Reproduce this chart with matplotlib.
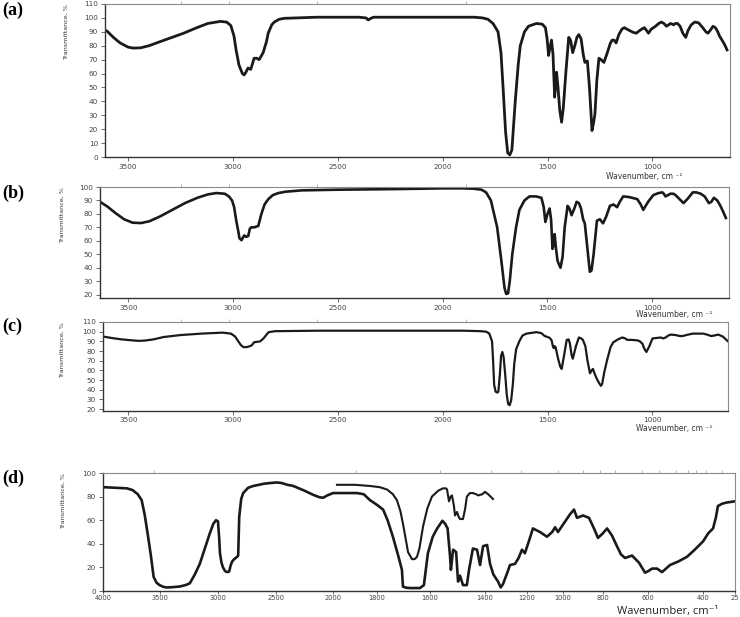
import numpy as np
import matplotlib
matplotlib.use("Agg")
import matplotlib.pyplot as plt

# ---------------- data ----------------
# (a)
wn_a = [3610, 3600, 3570, 3538, 3500, 3476, 3440, 3400, 3346, 3290, 3235, 3180, 3120, 3060, 3030, 3010,
        2995, 2985, 2971, 2955, 2947, 2938, 2928, 2915, 2909, 2899, 2887, 2875, 2856, 2840, 2832, 2815,
        2803, 2780, 2755, 2700, 2600, 2400, 2365, 2355, 2345, 2330, 2200, 2000, 1850, 1810, 1784, 1760,
        1736, 1722, 1712, 1700, 1690, 1680, 1670, 1654, 1640, 1630, 1610, 1591, 1553, 1525, 1510, 1502,
        1495, 1488, 1481, 1474, 1466, 1461, 1457, 1450, 1442, 1433, 1425, 1412, 1399, 1390, 1380, 1370,
        1360, 1351, 1340, 1330, 1322, 1310, 1300, 1288, 1280, 1274, 1265, 1255, 1245, 1231, 1215, 1200,
        1192, 1182, 1173, 1160, 1145, 1134, 1110, 1090, 1077, 1060, 1045, 1038, 1028, 1019, 1005, 985,
        970, 957, 945, 933, 923, 913, 905, 899, 890, 880, 868, 855, 841, 830, 815, 798, 780, 760, 745,
        735, 722, 711, 700, 690, 680, 670, 660, 650, 644]
t_a = [91, 90.5, 86, 82, 79, 78.3, 78.5, 80, 83, 86, 89, 92.5, 96, 97.5, 97, 94.5,
       87, 77, 66, 60, 59, 61, 64, 63, 66, 71, 71, 70, 75, 83, 89, 95,
       97, 99, 99.7, 100, 100.5, 100.5, 100, 98.5, 99.5, 100.5, 100.5, 100.5, 100.5, 100, 99, 96,
       90, 75, 50, 18, 3, 1.5, 5, 40, 66, 80, 90, 94, 96, 95.5, 93, 85,
       73, 79, 84, 74, 43, 52, 61, 50, 34, 25, 35, 62, 86, 84, 75, 80,
       86, 88, 85, 74, 68, 69, 50, 19, 25, 31, 55, 71, 70, 68, 75, 82,
       84, 84, 82, 88, 92, 93, 91, 89.5, 89, 91, 92.5, 93, 91, 89, 92, 94,
       96, 97, 96, 94, 95, 96, 95.5, 95, 96, 96, 94, 89, 86, 91, 95, 97, 96.5, 93, 90,
       89, 91.5, 94, 93, 90.5, 87, 84.5, 82, 79, 77]

# (b)
wn_b = [3635, 3600, 3560, 3520, 3480, 3440, 3400, 3350, 3290, 3230, 3170, 3120, 3080, 3040, 3020, 3005,
        2995, 2985, 2975, 2970, 2960, 2947, 2938, 2928, 2920, 2913, 2900, 2880, 2865, 2850, 2832, 2810,
        2784, 2750, 2673, 2500, 2200, 2000, 1900, 1850, 1815, 1793, 1770, 1740, 1720, 1705, 1697, 1688,
        1680, 1668, 1650, 1634, 1610, 1586, 1555, 1529, 1518, 1510, 1500, 1490, 1483, 1476, 1470, 1466,
        1460, 1452, 1438, 1428, 1418, 1404, 1395, 1385, 1372, 1361, 1350, 1340, 1330, 1322, 1310, 1298,
        1290, 1280, 1264, 1250, 1235, 1220, 1202, 1185, 1168, 1155, 1139, 1110, 1072, 1055, 1043, 1020,
        995, 970, 952, 945, 937, 925, 913, 900, 889, 870, 851, 830, 807, 790, 769, 750, 740, 730, 718,
        706, 690, 675, 660, 649]
t_b = [89, 85.5, 80.5, 76, 73.5, 73.2, 74.5, 78, 83, 88, 92, 94.5, 95.5, 95, 93, 90,
       85, 75, 67, 62, 60.5, 64, 63, 63.5, 69, 70, 70, 71, 80, 87, 91, 94,
       95.5, 96.5, 97.5, 98, 98.5, 99, 99, 98.7, 98, 96, 90, 70, 45, 25, 20.5, 21,
       30, 50, 70, 83, 90, 93, 93, 92, 85, 74, 80, 84, 76, 54, 58, 65,
       55, 45, 40, 48, 70, 86, 84, 79, 84, 89, 88, 84, 76, 73, 55, 37,
       38, 50, 75, 76, 73, 78, 86, 87, 85, 89, 93, 92.5, 91, 87, 83, 89,
       94, 95.5, 96, 95, 93, 94, 95, 95, 94, 91, 88, 91.5, 96, 96, 95, 93, 90.5, 88, 89,
       92, 90, 86, 81, 77]

# (c)
wn_c = [3620, 3580, 3530, 3480, 3450, 3420, 3380, 3330, 3250, 3150, 3050, 3010, 2990, 2975, 2962, 2950,
        2935, 2920, 2910, 2900, 2885, 2870, 2855, 2840, 2830, 2800, 2600, 2200, 1900, 1820, 1793, 1778,
        1765, 1760, 1755, 1748, 1740, 1735, 1728, 1722, 1716, 1710, 1702, 1695, 1688, 1681, 1674, 1666,
        1659, 1650, 1635, 1620, 1601, 1553, 1530, 1514, 1500, 1490, 1481, 1475, 1471, 1466, 1462, 1450,
        1440, 1433, 1422, 1409, 1400, 1394, 1386, 1380, 1365, 1351, 1340, 1332, 1320, 1310, 1298, 1290,
        1284, 1275, 1265, 1255, 1246, 1240, 1230, 1216, 1200, 1187, 1165, 1144, 1130, 1120, 1100, 1072,
        1060, 1048, 1038, 1029, 1015, 1000, 980, 961, 950, 937, 925, 913, 890, 870, 856, 830, 807,
        785, 759, 740, 721, 705, 687, 665, 650, 640]
t_c = [95, 93.5, 92, 91, 90.5, 90.8, 92, 94.5, 96.5, 98, 99, 98, 95, 90, 86, 84,
       84, 85, 86, 89, 89.5, 90, 93, 97, 99.5, 100.5, 101, 101, 101, 100.5, 100, 98,
       90, 70, 45, 38, 37, 38, 55, 75, 79, 74, 55, 35, 25, 24, 29, 45,
       67, 82, 90, 96, 98, 99.5, 98.5, 95.5, 94.5, 93.5, 91, 85, 83, 85, 84, 72,
       64, 61.5, 75, 91.5, 92, 88, 76, 72, 85, 94, 93, 91.5, 85, 70, 57, 60,
       61.5, 56, 51, 47, 44, 46, 58, 71, 84, 89, 92, 94, 93, 91.5, 91.5, 91,
       90, 87.5, 82, 79, 85, 93, 93.5, 94, 93, 94, 96, 97, 96.5, 95.5, 95.5, 97, 98,
       98, 98, 97, 95.5, 96, 97, 95, 92, 90]

# (d) main spectrum
wn_d1 = [4000, 3790, 3740, 3695, 3661, 3635, 3609, 3580, 3556, 3530, 3504, 3470, 3443, 3400, 3330, 3280,
         3243, 3200, 3157, 3110, 3070, 3040, 3017, 3000, 2990, 2983, 2970, 2957, 2940, 2922, 2904, 2890,
         2878, 2860, 2835, 2826, 2817, 2800, 2783, 2740, 2696, 2600, 2496, 2450, 2400, 2348, 2300, 2250,
         2174, 2120, 2087, 2050, 2000, 1930, 1891, 1860, 1832, 1800, 1777, 1760, 1740, 1720, 1706, 1702,
         1690, 1675, 1638, 1623, 1608, 1590, 1574, 1555, 1545, 1536, 1527, 1524, 1516, 1505, 1498, 1491,
         1480, 1466, 1458, 1444, 1429, 1418, 1407, 1390, 1376, 1360, 1338, 1325, 1314, 1295, 1281, 1257,
         1240, 1224, 1210, 1190, 1167, 1128, 1089, 1060, 1044, 1028, 1006, 985, 965, 945, 930, 900,
         870, 845, 825, 800, 782, 760, 738, 720, 702, 671, 640, 613, 598, 585, 567, 549, 520, 490, 458,
         430, 400, 375, 353, 340, 330, 310, 288, 250]
t_d1 = [88, 87, 85.5, 82, 77, 65, 49, 30, 12, 7, 5, 3.5, 3, 3.2, 3.8, 5,
        6.5, 14, 23, 37, 49, 57, 60, 59, 45, 32, 24, 20, 17, 16, 16.5, 22,
        25, 27, 29, 30, 63, 78, 83, 87.5, 89, 91, 92, 91.5, 90, 89, 87, 85,
        81.5, 79.5, 79, 81, 83, 83, 83, 82, 77, 73, 69, 60, 46, 30, 18, 3.7,
        2.8, 2.5, 2.5, 5, 32, 46, 53, 59.5, 57, 53, 29, 18, 35, 33, 8, 13,
        5, 5, 18, 36, 35, 22, 38, 39, 23, 14, 8, 3, 6, 15, 22, 23,
        28, 35, 32, 42, 53, 50, 46, 50, 54, 50, 55, 60, 65, 69, 62, 64,
        62, 53, 45, 49, 53, 47, 38, 31, 28, 30, 24, 15.5, 17, 19, 19, 16, 22, 25, 29,
        35, 42, 49, 53, 62, 72, 74, 75, 76]

# (d) second spectrum (upper trace)
wn_d2 = [1982, 1900, 1832, 1790, 1762, 1740, 1725, 1712, 1702, 1690, 1683, 1668, 1658, 1649, 1640, 1626,
         1610, 1593, 1570, 1553, 1542, 1538, 1531, 1525, 1520, 1513, 1509, 1502, 1496, 1491, 1480, 1472,
         1466, 1455, 1444, 1432, 1425, 1410, 1400, 1385, 1362]
t_d2 = [90, 90, 89, 88, 86, 82, 77, 68, 57, 42, 33, 27, 27, 29, 36, 55,
        70, 80, 85, 87, 87, 86, 76, 80, 81, 72, 64, 67, 63, 61, 61, 70,
        80, 83, 83, 82, 81, 82, 84, 82, 78]

# tick labels
yticks_a = [0, 10, 20, 30, 40, 50, 60, 70, 80, 90, 100, 110]
yticks_b = [20, 30, 40, 50, 60, 70, 80, 90, 100]
yticks_c = [20, 30, 40, 50, 60, 70, 80, 90, 100, 110]
yticks_d = [0, 20, 40, 60, 80, 100]
xticks_abc = [3500, 3000, 2500, 2000, 1500, 1000]
xticks_d = [4000, 3500, 3000, 2500, 2000, 1800, 1600, 1400, 1200, 1000, 800, 600, 400, 250]
xticklabels_d = ["4000", "3500", "3000", "2500", "2000", "1800", "1600", "1400", "1200", "1000",
                 "800", "600", "400", "25"]
topticks_abc = [3250, 3020, 2600, 1890]
topticks_d = [3700, 2500, 2000, 1700, 1520, 1300, 1150, 1050, 960, 800, 700, 600, 530, 480, 420, 330]

# ---------------- figure ----------------
W, H = 740, 617
fig = plt.figure(figsize=(W / 100, H / 100), dpi=100)
fig.patch.set_facecolor("white")


def add_ax(left, right, top, bottom):
    return fig.add_axes([left / W, 1 - bottom / H, (right - left) / W, (bottom - top) / H])


lab_family = ["Liberation Sans Narrow", "DejaVu Sans"]


def style(ax, yticks, topticks):
    for s in ["top", "right"]:
        ax.spines[s].set_color("#8a8a8a")
        ax.spines[s].set_linewidth(0.8)
    for s in ["left", "bottom"]:
        ax.spines[s].set_color("#333333")
        ax.spines[s].set_linewidth(1.0)
    ax.set_yticks(yticks)
    ax.tick_params(axis="both", length=3, width=0.6, color="#555555", pad=2,
                   labelsize=5.2, labelcolor="#444444")
    sec = ax.secondary_xaxis("top")
    sec.set_xticks(topticks)
    sec.tick_params(length=2.5, width=0.5, color="#9a9a9a", labeltop=False)
    sec.spines["top"].set_visible(False)


def ylab(ax, xpix):
    x0 = ax.get_position().x0 * W
    ax.text((xpix - x0) / (ax.get_position().width * W), 1.0, "Transmittance, %",
            transform=ax.transAxes, rotation=90, ha="center", va="top",
            fontsize=4.6, family=lab_family, color="#333333")


def plabel(ypix, s):
    fig.text(2 / W, 1 - ypix / H, s, fontsize=13, fontweight="bold",
             family=["Liberation Serif", "DejaVu Serif"], va="top", ha="left")


def wlabel(xpix, ypix, s="Wavenumber, cm \u207b\u00b9"):
    fig.text(xpix / W, 1 - ypix / H, s, fontsize=5.5, color="#333333", ha="left", va="center")


# (a)
axa = add_ax(105, 730, 4, 157)
axa.plot(wn_a, t_a, color="#1a1a1a", lw=2.0, solid_joinstyle="round")
axa.set_xlim(3610, 630)
axa.set_ylim(0, 110)
axa.set_xticks(xticks_abc)
style(axa, yticks_a, topticks_abc)
ylab(axa, 66)
plabel(2, "(a)")
wlabel(606, 176)

# (b)
axb = add_ax(100, 729, 187, 298)
axb.plot(wn_b, t_b, color="#1a1a1a", lw=1.9, solid_joinstyle="round")
axb.set_xlim(3635, 634)
axb.set_ylim(17.5, 100)
axb.set_xticks(xticks_abc)
style(axb, yticks_b, topticks_abc)
ylab(axb, 62)
plabel(185, "(b)")
wlabel(636, 314)

# (c)
axc = add_ax(103, 728, 322, 410.5)
axc.plot(wn_c, t_c, color="#1a1a1a", lw=1.6, solid_joinstyle="round")
axc.set_xlim(3620, 640)
axc.set_ylim(18.5, 110)
axc.set_xticks(xticks_abc)
style(axc, yticks_c, topticks_abc)
ylab(axc, 62)
plabel(318, "(c)")
wlabel(636, 428)

# (d) with non-linear wavenumber scale (two spectrometer ranges)
knot_wn = np.array([250, 400, 600, 800, 1000, 1200, 1400, 1600, 1800, 2000, 2500, 3000, 3500, 4000], float)
knot_px = np.array([735, 703, 648, 603, 563, 527, 485, 430, 377, 333, 276, 218, 160, 103], float)


def fwd(x):
    return -np.interp(x, knot_wn, knot_px)


def inv(y):
    return np.interp(y, -knot_px, knot_wn)


axd = add_ax(103, 735, 473, 591)
axd.set_xscale("function", functions=(fwd, inv))
axd.plot(wn_d1, t_d1, color="#1a1a1a", lw=1.9, solid_joinstyle="round")
axd.plot(wn_d2, t_d2, color="#1a1a1a", lw=1.5, solid_joinstyle="round")
axd.set_xlim(4000, 250)
axd.set_ylim(0, 100)
axd.set_xticks(xticks_d)
axd.set_xticklabels(xticklabels_d)
axd.minorticks_off()
style(axd, yticks_d, topticks_d)
axd.tick_params(axis="x", labelsize=4.8, length=2, pad=1)
ylab(axd, 63)
plabel(470, "(d)")
fig.text(617 / W, 1 - 617 / H, "Wavenumber, cm\u207b\u00b9", fontsize=8, color="#222222",
         ha="left", va="bottom", family=["Open Sans", "DejaVu Sans"])

fig.savefig("out.png", dpi=100, facecolor="white")
